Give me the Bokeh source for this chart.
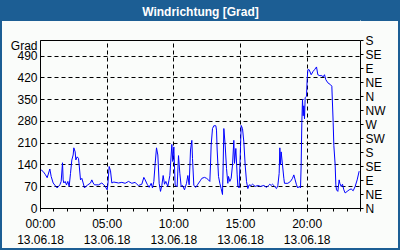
from bokeh.plotting import figure
from bokeh.models import Range1d, LinearAxis, FixedTicker
from bokeh.embed import file_html
from bokeh.resources import INLINE

title_text = "Windrichtung [Grad]"
y_unit = "Grad"
x_ticks = [0, 5, 10, 15, 20]
x_tick_labels = ["00:00\n13.06.18", "05:00\n13.06.18", "10:00\n13.06.18",
                 "15:00\n13.06.18", "20:00\n13.06.18"]
y_ticks = [0, 70, 140, 210, 280, 350, 420, 490]
dir_ticks = [0, 45, 90, 135, 180, 225, 270, 315, 360, 405, 450, 495, 540]
dir_labels = ["N", "NE", "E", "SE", "S", "SW", "W", "NW", "N", "NE", "E", "SE", "S"]

hours = [0.05, 0.2, 0.35, 0.5, 0.7, 0.8, 0.95, 1.15, 1.25, 1.35, 1.45, 1.55, 1.65, 1.7, 1.75,
         1.85, 1.95, 2.05, 2.15, 2.25, 2.35, 2.45, 2.5, 2.6, 2.65, 2.75, 2.85, 2.9, 3.0, 3.1,
         3.2, 3.3, 3.4, 3.55, 3.75, 3.85, 3.95, 4.05, 4.35, 4.6, 4.75, 4.85, 5.0, 5.05, 5.15,
         5.25, 5.35, 5.5, 5.85,
         6.1, 6.35, 6.6, 6.85, 7.1, 7.22, 7.35, 7.6, 7.75, 7.85, 8.0, 8.15, 8.3, 8.4, 8.5,
         8.6, 8.7, 8.8, 8.9, 9.0, 9.1, 9.2, 9.3, 9.4, 9.55, 9.7, 9.8, 9.85, 9.92, 10.0,
         10.1, 10.25, 10.35, 10.45, 10.55, 10.65, 10.8, 10.95, 11.05, 11.15, 11.25, 11.35,
         11.4, 11.5, 11.65, 11.8,
         11.98, 12.1, 12.3, 12.45, 12.6, 12.7, 12.75, 12.8, 12.9, 13.0, 13.15, 13.2, 13.25,
         13.35, 13.45, 13.55, 13.65, 13.7, 13.75, 13.85, 13.95, 14.05, 14.1, 14.2, 14.3,
         14.4, 14.5, 14.55, 14.65, 14.75, 14.8, 14.9, 15.0, 15.05, 15.15, 15.25, 15.35,
         15.45, 15.55, 15.65, 15.8, 15.9, 16.1, 16.3, 16.5, 16.75, 16.95, 17.1, 17.2, 17.3,
         17.4, 17.5, 17.6, 17.7, 17.8, 17.9,
         17.95, 18.0, 18.05, 18.15, 18.25, 18.3, 18.55, 18.75, 18.9, 19.0, 19.1, 19.2, 19.3,
         19.4, 19.5, 19.55, 19.6, 19.65, 19.7, 19.75, 19.8, 19.85, 19.95, 20.0, 20.05, 20.15,
         20.3, 20.45, 20.55, 20.7, 20.8, 20.95, 21.1, 21.2, 21.3, 21.4, 21.55, 21.75, 21.85,
         21.95, 22.0, 22.1, 22.15, 22.2, 22.3, 22.4, 22.45, 22.55, 22.65, 22.75, 22.85, 23.0,
         23.15, 23.3, 23.45, 23.6, 23.75, 23.9]

deg = [124, 119, 110, 99, 127, 103, 82, 71, 66, 71, 76, 87, 147, 92, 82,
       87, 76, 87, 71, 113, 156, 172, 195, 182, 156, 166, 161, 140, 92, 97,
       82, 66, 71, 76, 82, 92, 82, 76, 76, 82, 76, 71, 60, 76, 135,
       121, 82, 85, 82,
       84, 81, 87, 81, 84, 78, 74, 78, 100, 92, 78, 68, 81, 66, 87,
       145, 195, 172, 81, 55, 74, 106, 78, 87, 71, 106, 172, 206, 151, 198,
       74, 71, 170, 113, 71, 74, 60, 81, 106, 76, 188, 219,
       161, 74, 68, 78,
       89, 97, 100, 97, 92, 87, 140, 204, 257, 266, 266, 252, 188,
       103, 81, 64, 45, 140, 257, 204, 129, 81, 103, 87, 97,
       140, 219, 145, 193, 108, 71, 66, 198, 267, 257, 214, 140,
       87, 64, 76, 74, 78, 71, 74, 71, 74, 68, 74, 78, 74,
       78, 74, 68, 64, 74, 113,
       195, 140, 182, 140, 97, 81, 81, 87, 97, 108, 92, 76, 66,
       71, 66, 140, 277, 351, 298, 330, 288, 356, 361, 414, 446, 446,
       430, 441, 446, 455, 430, 427, 427, 423, 430, 414, 404, 398, 393,
       277, 203, 140, 76, 60, 55, 92, 81, 71, 78, 60, 50, 55,
       60, 63, 57, 71, 92, 120]

W, H = 400, 250
L, R, T, B = 40, 40, 40, 39
X0, X1, Y0, Y1 = 0, 24, 0, 540
blue = "#1c5e94"
bg = "#fafcfa"
font = "Liberation Sans"
fh = H - T - B
# the unit label sits as an extra, grid-less tick under the frame top
unit_pos = Y1 - 6 * (Y1 - Y0) / fh

p = figure(width=W, height=H, x_range=Range1d(X0, X1), y_range=Range1d(Y0, Y1),
           output_backend="svg", toolbar_location=None,
           min_border_left=L, min_border_right=R, min_border_top=T, min_border_bottom=B,
           background_fill_color=bg, border_fill_color=None, outline_line_color="black")
p.styles = {
    "background": f"linear-gradient(to bottom, {blue} 0px, {blue} 21px, {bg} 21px, {bg} 100%)",
    "box-shadow": f"inset 0 0 0 2px {blue}",
}

xa = p.below[0]
ya = p.left[0]

# invisible spacer between frame and title (pushes the title into the blue bar)
spacer = LinearAxis(ticker=FixedTicker(ticks=[X1], minor_ticks=[]), axis_line_color=None,
                    major_tick_out=20, major_tick_in=0, minor_tick_out=0, minor_tick_in=0,
                    major_label_standoff=0, major_tick_line_color=bg,
                    minor_tick_line_color=None, major_label_overrides={X1: ""},
                    major_label_text_font_size="1px")
p.add_layout(spacer, "above")

p.title.text = title_text
p.title.align = "center"
p.title.vertical_align = "bottom"
p.title.standoff = 4
p.title.text_color = "white"
p.title.text_font = font
p.title.text_font_style = "bold"
p.title.text_font_size = "12px"

# x axis
xa.ticker = FixedTicker(ticks=x_ticks, minor_ticks=list(range(X0, X1 + 1)))
xa.major_label_overrides = {t: l for t, l in zip(x_ticks, x_tick_labels)}
xa.major_tick_out = 3
xa.major_tick_in = 0
xa.minor_tick_out = 3
xa.minor_tick_in = 0
xa.major_label_standoff = 5

# left axis
ya.ticker = FixedTicker(ticks=y_ticks + [unit_pos], minor_ticks=[])
overrides = {t: str(t) for t in y_ticks}
overrides[unit_pos] = y_unit
ya.major_label_overrides = overrides
ya.major_tick_out = 0
ya.major_tick_in = 0
ya.minor_tick_out = 0
ya.minor_tick_in = 0
ya.major_label_standoff = 3

# right axis
ra = LinearAxis(ticker=FixedTicker(ticks=dir_ticks, minor_ticks=[]))
ra.major_label_overrides = {t: l for t, l in zip(dir_ticks, dir_labels)}
ra.major_tick_out = 3
ra.major_tick_in = 0
ra.minor_tick_out = 0
ra.minor_tick_in = 0
ra.major_label_standoff = 2
p.add_layout(ra, "right")

for ax in (xa, ya, ra):
    ax.major_label_text_font = font
    ax.major_label_text_font_size = "12px"
    ax.major_label_text_color = "black"
    ax.axis_line_color = "black"
    ax.major_tick_line_color = "black"
    ax.minor_tick_line_color = "black"

p.xgrid.ticker = FixedTicker(ticks=x_ticks[1:])
p.ygrid.ticker = FixedTicker(ticks=y_ticks[1:])
for g in (p.xgrid, p.ygrid):
    g.grid_line_color = "black"
    g.grid_line_dash = "4 3"
    g.grid_line_width = 1
    g.grid_line_alpha = 1

p.line(hours, deg, line_color="#0000ff", line_width=1)

open("out.html", "w").write(file_html(p, INLINE))
